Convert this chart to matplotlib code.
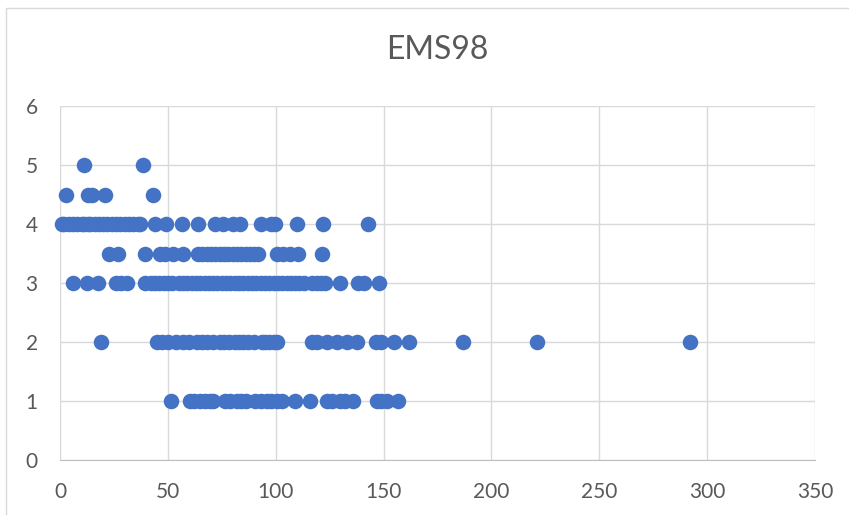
import numpy as np
import matplotlib.pyplot as plt
from matplotlib.patches import Rectangle

plt.rcParams['font.family'] = ['Lato', 'DejaVu Sans']

# values, one list per intensity level
x_5 = [11, 38.5]
x_45 = [3, 13, 15, 21, 43]
x_4 = [1, 2, 4, 6, 8, 10, 11, 13, 14, 16, 18, 20, 22, 24, 26, 28, 30, 32, 34, 36, 37,
       44, 49, 56.5, 64, 72, 75.5, 80, 83.5, 93, 98, 99.5, 110, 122, 143]
x_35 = [22.7, 26.9, 39.4, 46.4, 48.7, 52.4, 57,
        64, 66, 68, 70, 72, 74, 76, 78, 80, 82, 84, 86, 88, 90, 92,
        100.6, 103.3, 106.6, 110.3, 121.4]
x_3 = [6, 12.5, 17.6, 26, 28.5, 31,
       39.4, 42, 44, 46, 48, 50, 52, 55, 57, 59, 61, 63, 65, 67, 69, 71, 73, 75, 77,
       79, 81, 83, 85, 87, 89, 91, 93, 95, 97, 99, 101, 103, 105, 107, 109, 111, 113,
       117, 119, 121, 122.8, 130, 138, 141, 148]
x_2 = [19, 45, 47.5, 50, 54, 57, 60, 63.5, 66, 68, 71, 74, 76, 78.5, 81, 83, 85, 87,
       90, 93.5, 95, 97, 99, 100.5, 117, 119, 124, 128.4, 133, 137.7,
       146.5, 149, 155, 162, 187, 221, 292]
x_1 = [51.4, 60.3, 62, 64.9, 67, 69.5, 71, 76.5, 79, 82, 84, 86, 90.4, 93, 95.9, 98,
       100.6, 103, 109, 116, 124, 126, 130, 132, 136, 147, 149, 151.6, 156.7]

levels = [5, 4.5, 4, 3.5, 3, 2, 1]
groups = [x_5, x_45, x_4, x_35, x_3, x_2, x_1]

xs = np.concatenate([np.array(g, dtype=float) for g in groups])
ys = np.concatenate([np.full(len(g), lv) for g, lv in zip(groups, levels)])

fig = plt.figure(figsize=(8.49, 5.15), dpi=100)
fig.patches.append(Rectangle((6 / 849, -0.1), 1.2, 1 - 8 / 515 + 0.1,
                             transform=fig.transFigure, fill=False,
                             edgecolor='#D9D9D9', linewidth=1))
ax = fig.add_axes([60 / 849, 1 - 460 / 515, 755 / 849, 354 / 515])

ax.scatter(xs, ys, s=125, color='#4472C4', linewidths=0, zorder=3, clip_on=False)

ax.set_xlim(0, 350)
ax.set_ylim(0, 6)
ax.set_xticks(np.arange(0, 351, 50))
ax.set_yticks(np.arange(0, 7, 1))
ax.grid(True, color='#D9D9D9', linewidth=1)
ax.set_axisbelow(True)
for s in ['top', 'right', 'left']:
    ax.spines[s].set_visible(False)
ax.spines['bottom'].set_color('#BFBFBF')
ax.tick_params(length=0, labelsize=15, labelcolor='#595959')
ax.tick_params(axis='x', pad=16)
ax.tick_params(axis='y', pad=16)

fig.text(437 / 849, 1 - 50 / 515, 'EMS98', ha='center', va='center',
         fontsize=23, color='#595959')

fig.savefig('out.png', dpi=100)
